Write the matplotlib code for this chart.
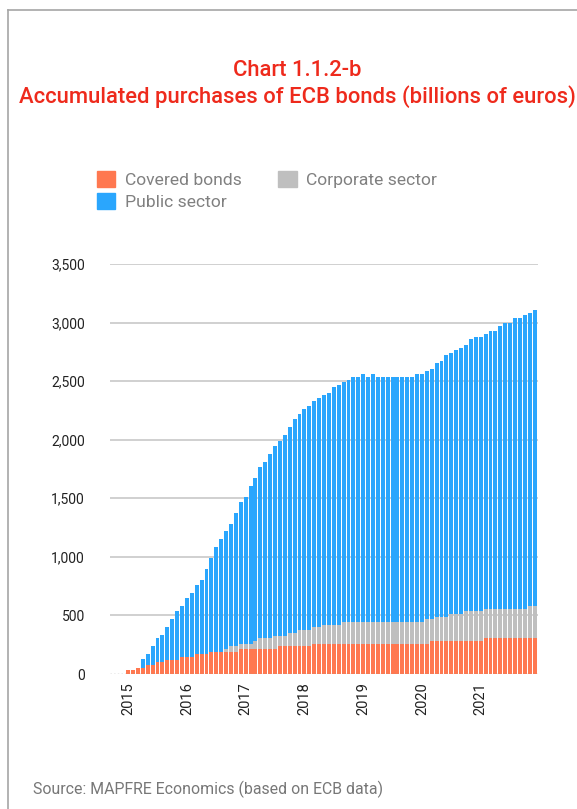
import matplotlib.pyplot as plt
from matplotlib.patches import Patch
from matplotlib.lines import Line2D
import numpy as np
import pandas as pd

# monthly stock of holdings, Jan 2015 - Dec 2021 (billions of euros)
months = pd.date_range('2015-01-01', '2021-12-01', freq='MS')

covered = [34, 34, 51, 51, 77, 77, 102, 102, 122, 122, 122, 145,
           145, 145, 171, 171, 171, 190, 190, 190, 190, 190, 190, 213,
           213, 213, 213, 213, 213, 213, 213, 239, 239, 239, 239, 239,
           239, 239, 256, 256, 256, 256, 256, 256, 256, 256, 256, 256,
           256, 256, 256, 256, 256, 256, 256, 256, 256, 256, 256, 256,
           256, 256, 282, 282, 282, 282, 282, 282, 282, 282, 282, 282,
           282, 307, 307, 307, 307, 307, 307, 307, 307, 307, 307, 307]

corporate = [0, 0, 0, 0, 0, 0, 0, 0, 0, 0, 0, 0,
             0, 0, 0, 0, 0, 0, 0, 0, 23, 49, 49, 43,
             43, 43, 69, 94, 94, 94, 111, 85, 85, 111, 111, 137,
             137, 137, 145, 145, 162, 162, 162, 162, 188, 188, 188, 188,
             188, 188, 188, 188, 188, 188, 188, 188, 188, 188, 188, 188,
             188, 213, 187, 204, 204, 204, 230, 230, 230, 256, 256, 256,
             256, 248, 248, 248, 248, 248, 248, 248, 248, 248, 273, 273]

public = [0, 0, 0, 77, 94, 162, 205, 231, 279, 347, 416, 435,
          504, 546, 589, 631, 725, 800, 894, 962, 1007, 1041, 1135, 1212,
          1255, 1349, 1391, 1460, 1503, 1571, 1622, 1665, 1716, 1758, 1827, 1844,
          1886, 1912, 1929, 1955, 1964, 1981, 2032, 2049, 2049, 2066, 2091, 2091,
          2117, 2091, 2117, 2091, 2091, 2091, 2091, 2091, 2091, 2091, 2091, 2117,
          2117, 2118, 2135, 2169, 2186, 2237, 2228, 2254, 2271, 2270, 2322, 2339,
          2339, 2347, 2373, 2373, 2416, 2442, 2442, 2484, 2484, 2510, 2502, 2527]

year_labels = ['2015', '2016', '2017', '2018', '2019', '2020', '2021']

c_covered = '#ff7850'
c_corporate = '#bfbfbf'
c_public = '#2aa6fd'

plt.rcParams['font.family'] = ['Roboto', 'DejaVu Sans']

fig = plt.figure(figsize=(5.77, 8.09), dpi=100)
ax = fig.add_axes([110 / 577, 1 - 674 / 809, 428 / 577, 410 / 809])

x = np.arange(len(months))
cov = np.array(covered)
corp = np.array(corporate)
pub = np.array(public)

ax.bar(x, cov, width=0.8, color=c_covered, linewidth=0, zorder=2)
ax.bar(x, corp, width=0.8, bottom=cov, color=c_corporate, linewidth=0, zorder=2)
ax.bar(x, pub, width=0.8, bottom=cov + corp, color=c_public, linewidth=0, zorder=2)

ax.set_xlim(-3.7, 83.7)
ax.set_ylim(0, 3500)
ax.set_yticks(np.arange(0, 3501, 500))
ax.yaxis.set_major_formatter(plt.FuncFormatter(lambda v, p: f'{int(v):,}'))
for v in range(500, 3501, 500):
    ax.axhline(v, color='#c8c8c8', linewidth=1.2, zorder=1)
ax.axhline(0, color='#999999', linewidth=1.0, linestyle=':', zorder=3)

jan_pos = [i for i, d in enumerate(months) if d.month == 1]
ax.set_xticks(jan_pos)
ax.set_xticklabels(year_labels, rotation=90, va='top', ha='center')
ax.tick_params(axis='x', length=0, pad=6, labelsize=10.5, labelcolor='#222222')
ax.tick_params(axis='y', length=0, pad=18, labelsize=10, labelcolor='#222222')
for s in ax.spines.values():
    s.set_visible(False)

fig.text(297 / 577, 1 - 70 / 809, 'Chart 1.1.2-b', ha='center', va='center',
         color='#ee2a1c', fontsize=15.8, fontweight='medium')
fig.text(297 / 577, 1 - 97 / 809, 'Accumulated purchases of ECB bonds (billions of euros)',
         ha='center', va='center', color='#ee2a1c', fontsize=15.8, fontweight='medium')

handles = [Patch(color=c_covered, label='Covered bonds'),
           Patch(color=c_public, label='Public sector'),
           Patch(color=c_corporate, label='Corporate sector')]
fig.legend(handles=handles, loc='upper left', bbox_to_anchor=(88 / 577, 1 - 162 / 809),
           ncol=2, frameon=False, fontsize=12.6, labelcolor='#808080',
           handlelength=1.05, handleheight=1.05, handletextpad=0.55,
           columnspacing=2.1, labelspacing=0.3, borderpad=0)

fig.text(33 / 577, 1 - 789 / 809, 'Source: MAPFRE Economics (based on ECB data)',
         ha='left', va='center', color='#777777', fontsize=11.4)

# page frame, left and top edges
fig.add_artist(Line2D([8 / 577, 8 / 577], [0, 1 - 10 / 809], color='#a6a6a6', linewidth=1.2))
fig.add_artist(Line2D([8 / 577, 1], [1 - 10 / 809, 1 - 10 / 809], color='#a6a6a6', linewidth=1.2))

fig.savefig('out.png', dpi=100)
